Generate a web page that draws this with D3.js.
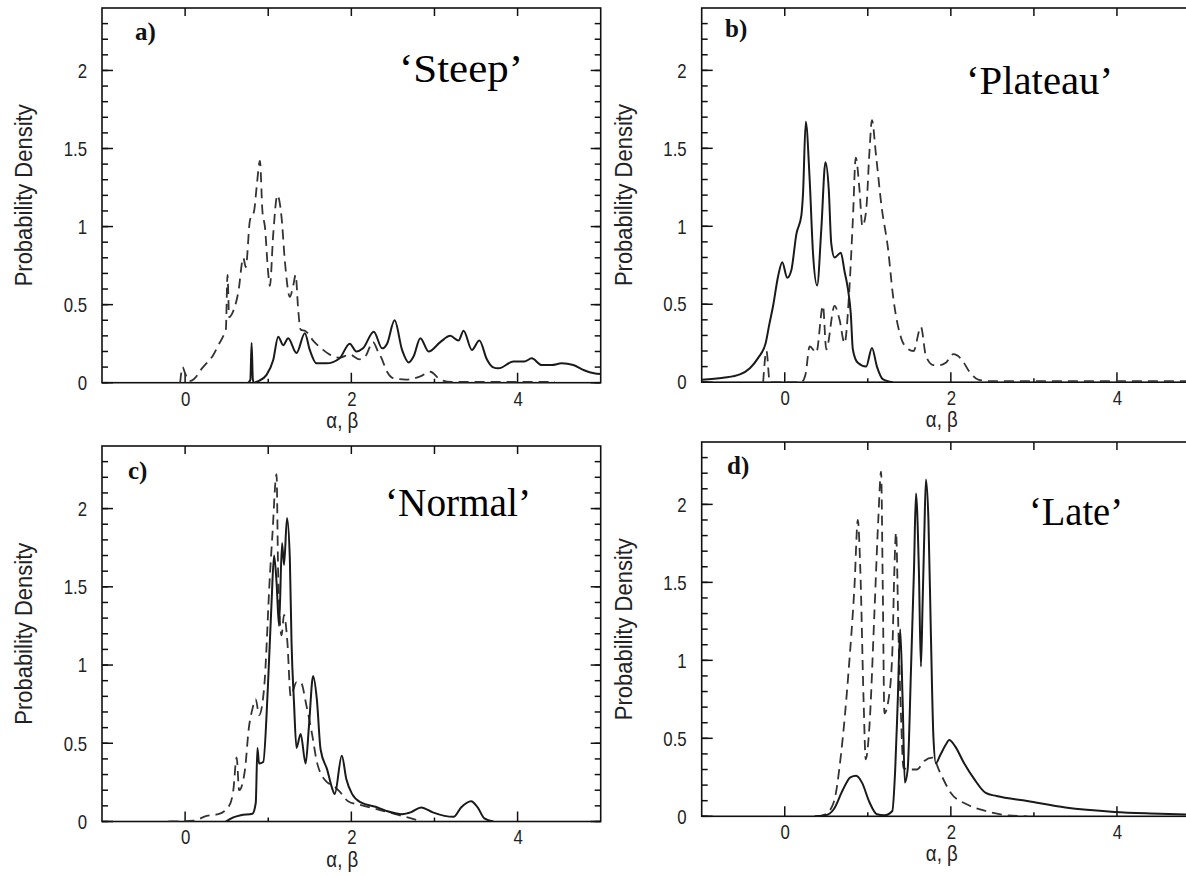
<!DOCTYPE html>
<html>
<head>
<meta charset="utf-8">
<script src="https://cdn.jsdelivr.net/npm/d3@7"></script>
<style>
  body { margin: 0; background: #fff; }
  svg { display: block; }
</style>
</head>
<body>
<div id="chart"></div>
<script>
// curves: [alpha/beta, density]
const steepSolid = [[0.76,0],[0.785,0.02],[0.80,0.255],[0.815,0.02],[0.83,0],[0.88,0.01],[0.98,0.05],[1.06,0.145],[1.12,0.295],[1.18,0.24],[1.24,0.285],[1.34,0.19],[1.44,0.317],[1.5,0.21],[1.58,0.124],[1.7,0.124],[1.86,0.157],[1.98,0.25],[2.06,0.2],[2.14,0.22],[2.27,0.327],[2.37,0.22],[2.43,0.25],[2.52,0.40],[2.61,0.21],[2.69,0.13],[2.75,0.17],[2.83,0.285],[2.93,0.2],[3.07,0.26],[3.19,0.30],[3.29,0.27],[3.35,0.333],[3.45,0.21],[3.54,0.27],[3.63,0.15],[3.7,0.1],[3.77,0.092],[3.95,0.135],[4.08,0.135],[4.17,0.156],[4.29,0.113],[4.41,0.113],[4.53,0.124],[4.67,0.113],[4.8,0.08],[4.92,0.06],[5,0.055]]
const steepDashed = [[-0.06,0],[-0.03,0.1],[0.0,0.06],[0.05,0.01],[0.1,0.02],[0.15,0.05],[0.2,0.09],[0.25,0.12],[0.33,0.17],[0.4,0.24],[0.46,0.3],[0.49,0.34],[0.51,0.69],[0.53,0.42],[0.58,0.46],[0.64,0.58],[0.7,0.8],[0.73,0.74],[0.78,1.04],[0.83,1.1],[0.86,1.25],[0.9,1.42],[0.93,1.1],[0.96,1.0],[1.0,0.7],[1.02,0.62],[1.06,0.95],[1.11,1.2],[1.16,1.06],[1.2,0.78],[1.26,0.55],[1.3,0.62],[1.33,0.69],[1.36,0.47],[1.39,0.34],[1.45,0.33],[1.54,0.27],[1.66,0.21],[1.74,0.18],[1.86,0.16],[1.98,0.18],[2.1,0.15],[2.17,0.17],[2.26,0.26],[2.32,0.2],[2.36,0.16],[2.43,0.07],[2.5,0.03],[2.66,0.02],[2.83,0.04],[2.95,0.07],[3.07,0.02],[3.2,0.005],[3.6,0.005],[4.45,0.005]]

const plateauSolid = [[-1,0.015],[-0.74,0.028],[-0.54,0.05],[-0.42,0.09],[-0.32,0.156],[-0.23,0.25],[-0.19,0.36],[-0.14,0.49],[-0.08,0.68],[-0.03,0.77],[0.03,0.67],[0.08,0.72],[0.14,0.95],[0.2,1.07],[0.22,1.21],[0.253,1.67],[0.3,1.3],[0.34,0.83],[0.39,0.62],[0.44,0.98],[0.49,1.41],[0.53,1.235],[0.56,0.89],[0.6,0.8],[0.675,0.83],[0.72,0.71],[0.76,0.6],[0.795,0.44],[0.82,0.21],[0.88,0.124],[0.98,0.1],[1.05,0.22],[1.11,0.1],[1.18,0.02],[1.3,0]]
const plateauDashed = [[-0.26,0],[-0.22,0.2],[-0.18,0],[0.2,0],[0.25,0.05],[0.3,0.23],[0.38,0.19],[0.46,0.49],[0.5,0.21],[0.6,0.49],[0.66,0.4],[0.72,0.25],[0.775,0.57],[0.82,1.04],[0.855,1.44],[0.9,1.235],[0.935,1.0],[0.98,1.1],[1.02,1.48],[1.05,1.68],[1.1,1.45],[1.165,1.13],[1.245,0.85],[1.3,0.57],[1.41,0.27],[1.47,0.22],[1.55,0.2],[1.64,0.355],[1.7,0.167],[1.79,0.11],[1.87,0.11],[1.94,0.125],[2.03,0.18],[2.13,0.146],[2.22,0.07],[2.33,0.017],[2.47,0.006],[5,0.006]]

const normalSolid = [[0.49,0],[0.58,0.026],[0.67,0.04],[0.81,0.05],[0.85,0.12],[0.87,0.47],[0.89,0.37],[0.94,0.38],[0.995,0.85],[1.04,1.4],[1.07,1.7],[1.1,1.53],[1.13,1.25],[1.166,1.78],[1.19,1.64],[1.226,1.94],[1.26,1.68],[1.28,1.15],[1.31,0.76],[1.34,0.47],[1.39,0.56],[1.45,0.37],[1.49,0.61],[1.54,0.93],[1.585,0.78],[1.63,0.46],[1.71,0.33],[1.77,0.21],[1.8,0.175],[1.885,0.42],[1.94,0.27],[2.01,0.175],[2.12,0.12],[2.29,0.094],[2.42,0.068],[2.61,0.047],[2.72,0.06],[2.84,0.09],[2.98,0.058],[3.12,0.036],[3.23,0.03],[3.32,0.09],[3.44,0.13],[3.52,0.09],[3.6,0.02],[3.71,0]]
const normalDashed = [[-0.2,0],[0.1,0.005],[0.26,0.036],[0.4,0.047],[0.53,0.1],[0.58,0.2],[0.62,0.41],[0.65,0.2],[0.72,0.33],[0.765,0.59],[0.81,0.72],[0.85,0.78],[0.89,0.68],[0.95,0.85],[1.02,1.57],[1.05,1.83],[1.1,2.22],[1.12,1.57],[1.16,1.19],[1.19,1.32],[1.23,1.15],[1.27,0.8],[1.34,0.89],[1.39,0.89],[1.46,0.74],[1.53,0.55],[1.59,0.37],[1.71,0.25],[1.78,0.23],[1.87,0.185],[1.96,0.13],[2.15,0.1],[2.38,0.068],[2.61,0.036],[2.75,0.015],[2.84,0]]

const lateSolid = [[0.36,0],[0.49,0.006],[0.59,0.045],[0.7,0.17],[0.79,0.25],[0.86,0.26],[0.93,0.216],[1.02,0.09],[1.11,0.013],[1.2,0.006],[1.295,0.034],[1.33,0.3],[1.36,0.73],[1.39,1.2],[1.42,0.73],[1.446,0.216],[1.48,0.3],[1.52,0.94],[1.556,1.58],[1.58,2.07],[1.615,1.58],[1.64,0.96],[1.66,1.37],[1.68,1.8],[1.7,2.16],[1.73,1.9],[1.76,1.16],[1.79,0.51],[1.82,0.34],[1.87,0.39],[1.94,0.46],[1.98,0.49],[2.05,0.45],[2.16,0.34],[2.28,0.24],[2.42,0.15],[2.55,0.13],[2.92,0.098],[3.38,0.056],[3.97,0.028],[4.52,0.017],[5,0.008]]
const lateDashed = [[0.38,0],[0.49,0.013],[0.59,0.09],[0.68,0.41],[0.77,0.94],[0.84,1.48],[0.88,1.9],[0.91,1.58],[0.95,0.73],[0.975,0.365],[1.02,0.58],[1.08,1.31],[1.126,1.9],[1.16,2.21],[1.18,1.48],[1.2,0.66],[1.25,0.75],[1.295,1.05],[1.32,1.58],[1.34,1.82],[1.37,1.16],[1.4,0.64],[1.43,0.31],[1.5,0.3],[1.59,0.3],[1.68,0.355],[1.78,0.376],[1.87,0.28],[2.0,0.15],[2.19,0.077],[2.42,0.034],[2.69,0.006],[2.92,0]]

const xTicksMajor = [0, 2, 4]
const xTicksMinor = [1, 3]
const yTicksMajor = [0, 0.5, 1, 1.5, 2]
const yTicksMinor = d3.range(0, 24).map(i => i / 10)

const panels = [
  { id: 'a', tag: 'a)', title: '\u2018Steep\u2019', solid: steepSolid, dashed: steepDashed,
    left: 102, right: 600.7, top: 8, bottom: 382.7, tagX: 135, tagY: 40, titleX: 399, titleY: 82, titleW: 124 },
  { id: 'b', tag: 'b)', title: '\u2018Plateau\u2019', solid: plateauSolid, dashed: plateauDashed,
    left: 701.7, right: 1200, top: 8, bottom: 382.2, tagX: 725, tagY: 37, titleX: 966, titleY: 94, titleW: 147 },
  { id: 'c', tag: 'c)', title: '\u2018Normal\u2019', solid: normalSolid, dashed: normalDashed,
    left: 102, right: 600.7, top: 446, bottom: 821.5, tagX: 128, tagY: 479, titleX: 385, titleY: 516, titleW: 146 },
  { id: 'd', tag: 'd)', title: '\u2018Late\u2019', solid: lateSolid, dashed: lateDashed,
    left: 701.7, right: 1200, top: 442, bottom: 816.3, tagX: 727, tagY: 474, titleX: 1029, titleY: 525, titleW: 94 }
]

const width = 1186
const height = 876

const svg = d3.select('#chart')
  .append('svg')
  .attr('width', width)
  .attr('height', height)
  .attr('viewBox', [0, 0, width, height])

svg.append('rect').attr('width', width).attr('height', height).attr('fill', '#fff')

const sans = 'Liberation Sans, Arial, sans-serif'
const serif = 'Liberation Serif, Times New Roman, serif'

// narrow the labels a little, the original uses a condensed face
const squeeze = (sel, k) => sel.each(function () {
  const len = this.getComputedTextLength()
  d3.select(this).attr('textLength', len * k).attr('lengthAdjust', 'spacingAndGlyphs')
})

panels.forEach(p => {
  const x = d3.scaleLinear().domain([-1, 5]).range([p.left, p.right])
  const y = d3.scaleLinear().domain([0, 2.4]).range([p.bottom, p.top])
  const g = svg.append('g')

  g.append('clipPath').attr('id', `clip-${p.id}`)
    .append('rect')
    .attr('x', p.left).attr('y', p.top)
    .attr('width', p.right - p.left).attr('height', p.bottom - p.top)

  const labelStyle = sel => sel
    .call(s => s.select('.domain').remove())
    .call(s => s.selectAll('.tick line').remove())
    .call(s => s.selectAll('.tick text')
      .attr('fill', '#222')
      .attr('font-family', sans)
      .attr('font-size', 21)
      .call(squeeze, 0.8))

  g.append('g').attr('transform', `translate(${p.left},0)`)
    .call(d3.axisLeft(y).tickValues(yTicksMajor).tickSize(0).tickPadding(15).tickFormat(d3.format('~g')))
    .call(labelStyle)
  g.append('g').attr('transform', `translate(0,${p.bottom})`)
    .call(d3.axisBottom(x).tickValues(xTicksMajor).tickSize(0).tickPadding(8).tickFormat(d3.format('~g')))
    .call(labelStyle)

  // inward tick marks on all four sides
  const ticks = g.append('g')
  const vTicks = (values, x0, dir, size) => ticks.append('g')
    .selectAll('line')
    .data(values)
    .join('line')
    .attr('stroke', '#111')
    .attr('stroke-width', 1.5)
    .attr('x1', x0).attr('x2', x0 + dir * size)
    .attr('y1', d => y(d)).attr('y2', d => y(d))
  const hTicks = (values, y0, dir, size) => ticks.append('g')
    .selectAll('line')
    .data(values)
    .join('line')
    .attr('stroke', '#111')
    .attr('stroke-width', 1.5)
    .attr('y1', y0).attr('y2', y0 + dir * size)
    .attr('x1', d => x(d)).attr('x2', d => x(d))

  vTicks(yTicksMinor, p.left, 1, 6)
  vTicks(yTicksMajor, p.left, 1, 11)
  vTicks(yTicksMinor, p.right, -1, 6)
  vTicks(yTicksMajor, p.right, -1, 10)
  hTicks(xTicksMajor, p.bottom, -1, 10)
  hTicks(xTicksMinor, p.bottom, -1, 4)
  hTicks(xTicksMajor.concat(xTicksMinor), p.top, 1, 8)

  g.append('rect')
    .attr('x', p.left).attr('y', p.top)
    .attr('width', p.right - p.left).attr('height', p.bottom - p.top)
    .attr('fill', 'none').attr('stroke', '#111').attr('stroke-width', 1.6)

  const line = d3.line()
    .x(d => x(d[0]))
    .y(d => y(d[1]))
    .curve(d3.curveMonotoneX)

  const plot = g.append('g').attr('clip-path', `url(#clip-${p.id})`)
  plot.append('path')
    .datum(p.dashed)
    .attr('d', line)
    .attr('fill', 'none')
    .attr('stroke', '#333')
    .attr('stroke-width', 1.8)
    .attr('stroke-dasharray', '10,6')
  plot.append('path')
    .datum(p.solid)
    .attr('d', line)
    .attr('fill', 'none')
    .attr('stroke', '#1a1a1a')
    .attr('stroke-width', 2)

  // axis titles
  const midY = (p.top + p.bottom) / 2
  g.append('text')
    .attr('transform', `translate(${p.left - 70},${midY}) rotate(-90)`)
    .attr('text-anchor', 'middle')
    .attr('font-family', sans)
    .attr('font-size', 23)
    .attr('fill', '#222')
    .attr('textLength', 182)
    .attr('lengthAdjust', 'spacingAndGlyphs')
    .text('Probability Density')

  g.append('text')
    .attr('x', x(2) - 9)
    .attr('y', p.bottom + 45)
    .attr('text-anchor', 'middle')
    .attr('font-family', sans)
    .attr('font-size', 22)
    .attr('fill', '#222')
    .text('\u03b1, \u03b2')
    .call(squeeze, 0.85)

  g.append('text')
    .attr('x', p.tagX).attr('y', p.tagY)
    .attr('font-family', serif)
    .attr('font-weight', 'bold')
    .attr('font-size', 25)
    .attr('fill', '#111')
    .text(p.tag)

  g.append('text')
    .attr('x', p.titleX).attr('y', p.titleY)
    .attr('font-family', serif)
    .attr('font-size', 40)
    .attr('fill', '#000')
    .attr('textLength', p.titleW)
    .attr('lengthAdjust', 'spacingAndGlyphs')
    .text(p.title)
})
</script>
</body>
</html>
